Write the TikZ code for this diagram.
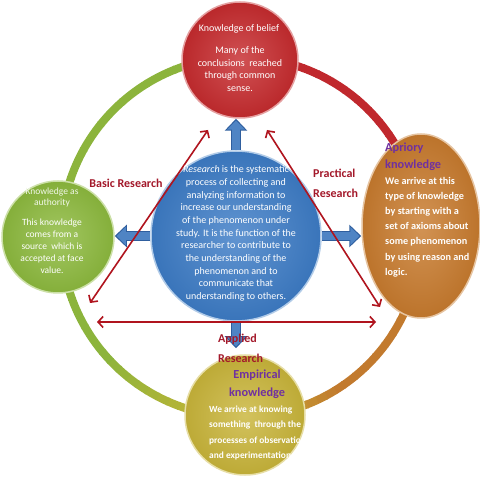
\documentclass[tikz,border=0pt]{standalone}
\usepackage{fontspec}
\setmainfont{Carlito}
\usetikzlibrary{arrows.meta,shapes.geometric}
\definecolor{ringred}{HTML}{C0282D}
\definecolor{ringorange}{HTML}{C27A2E}
\definecolor{ringyellow}{HTML}{C4B434}
\definecolor{ringgreen}{HTML}{8CB43C}
\definecolor{cbelief}{HTML}{C62B2E}
\definecolor{cauth}{HTML}{8DBA3E}
\definecolor{capri}{HTML}{C87B2E}
\definecolor{cemp}{HTML}{C9B53A}
\definecolor{cres}{HTML}{3D7CC6}
\definecolor{arrowdark}{HTML}{2F5E9E}
\definecolor{arrowfill}{HTML}{4F84C4}
\definecolor{arrred}{HTML}{B0141E}
\definecolor{labred}{HTML}{A3182A}
\definecolor{titlepurple}{HTML}{7030A0}
\tikzset{
  ringline/.style={line width=8pt},
  sphere/.style={circle, draw=#1!45!white, line width=1.5pt, inner color=#1!82!white, outer color=#1!94!black},
  esphere/.style={ellipse, draw=#1!45!white, line width=1.5pt, inner color=#1!82!white, outer color=#1!94!black},
  barrow/.style={line width=10pt, draw=arrowdark, -{Triangle[width=22pt,length=12pt]}},
  barrowin/.style={line width=7.4pt, draw=arrowfill, shorten >=1.8pt, -{Triangle[width=17.5pt,length=9.2pt]}},
  redarr/.style={draw=arrred, line width=1.6pt, {Straight Barb[length=5pt,width=11pt]}-{Straight Barb[length=5pt,width=11pt]}},
  bodytext/.style={text=white, align=center, inner sep=0pt, font=\fontsize{10}{12.7}\selectfont},
  bodybold/.style={text=white, align=left, inner sep=0pt, font=\bfseries\fontsize{10.2}{15.2}\selectfont},
  labeltext/.style={text=labred, inner sep=0pt, font=\bfseries\fontsize{12}{20}\selectfont},
  purpletitle/.style={text=titlepurple, inner sep=0pt, font=\bfseries\fontsize{12.3}{17.5}\selectfont},
}
\begin{document}
\begin{tikzpicture}[x=1pt,y=1pt]
\useasboundingbox (0,0) rectangle (480,480);
\fill[white] (0,0) rectangle (480,480);
% ring
\coordinate (ringc) at (241,243);
\foreach \a/\b/\ca/\cb in {90/30/ringred/ringred, 30/0/ringred/ringorange, 0/-55/ringorange/ringorange, -55/-95/ringorange/ringyellow, -95/-140/ringyellow/ringgreen, -140/-258/ringgreen/ringgreen, -258/-270/ringgreen/ringred}{
  \foreach \i in {0,...,11}{
    \pgfmathsetmacro\s{\a+(\b-\a)*\i/12}
    \pgfmathsetmacro\e{\a+(\b-\a)*(\i+1)/12-0.4}
    \pgfmathtruncatemacro\p{100*\i/11}
    \draw[ringline, draw=\cb!\p!\ca] ([shift={(\s:180pt)}]ringc) arc[start angle=\s, end angle=\e, radius=180pt];
  }
}
% circles
\node[sphere=cbelief, minimum size=116pt] (belief) at (240,420) {};
\node[sphere=cauth, minimum size=112pt] (authority) at (58,243) {};
\node[esphere=capri, minimum width=118pt, minimum height=184pt] (apriory) at (421,254) {};
\node[sphere=cemp, minimum size=120pt] (empirical) at (245,65) {};
\node[sphere=cres, draw=cres!40!white, minimum size=170pt] (research) at (236,244) {};
% blue block arrows
\draw[barrow] (research.north) -- (research.north |- belief.south);
\draw[barrowin] (research.north) -- (research.north |- belief.south);
\draw[barrow] (research.west) -- (research.west -| authority.east);
\draw[barrowin] (research.west) -- (research.west -| authority.east);
\draw[barrow] (research.east) -- (research.east -| apriory.west);
\draw[barrowin] (research.east) -- (research.east -| apriory.west);
\draw[barrow, shorten >=6pt] (research.south) -- (research.south |- empirical.north);
\draw[barrowin, shorten >=7.8pt] (research.south) -- (research.south |- empirical.north);
% red triangle arrows
\coordinate (tl) at (208,350);
\coordinate (bl) at (90,177);
\coordinate (tr) at (267,350);
\coordinate (br) at (380,173);
\coordinate (hl) at (97,158);
\coordinate (hr) at (376,158);
\draw[redarr] (tl) -- (bl);
\draw[redarr] (tr) -- (br);
\draw[redarr] (hl) -- (hr);
% texts
\node[bodytext] (restext) at (236,246.5) {\textit{Research} is the systematic\\process of collecting and\\analyzing information to\\increase our understanding\\of the phenomenon under\\study. It is the function of the\\researcher to contribute to\\the understanding of the\\phenomenon and to\\communicate that\\understanding to others.};
\node[bodytext] (belieftitle) at (239,451) {Knowledge of belief};
\node[bodytext] (beliefbody) at (240,411) {Many of the\\conclusions~~reached\\through common\\sense.};
\node[bodytext, text=white!88!cauth, font=\fontsize{9.5}{11.5}\selectfont] (authtitle) at (52,282.5) {Knowledge as\\authority};
\node[bodytext, font=\fontsize{9.5}{12}\selectfont] (authbody) at (52,234) {This knowledge\\comes from a\\source~~which is\\accepted at face\\value.};
\node[purpletitle, align=left, anchor=west] (apritle) at (385,323.5) {Apriory\\knowledge};
\node[bodybold, anchor=west] (apribody) at (385,253) {We arrive at this\\type of knowledge\\by starting with a\\set of axioms about\\some phenomenon\\by using reason and\\logic.};
\node[purpletitle, align=center] (emptitle) at (257,96) {Empirical\\knowledge};
\node[bodybold, anchor=west, font=\bfseries\fontsize{9.4}{15.3}\selectfont] (empbody) at (209,47) {We arrive at knowing\\something~~through the\\processes of observation\\and experimentation};
\node[labeltext] (basic) at (126,297) {Basic Research};
\node[labeltext, align=left, anchor=west] (practical) at (313,297) {Practical\\Research};
\node[labeltext, align=left, anchor=west] (applied) at (218,132) {Applied\\Research};
\end{tikzpicture}
\end{document}
